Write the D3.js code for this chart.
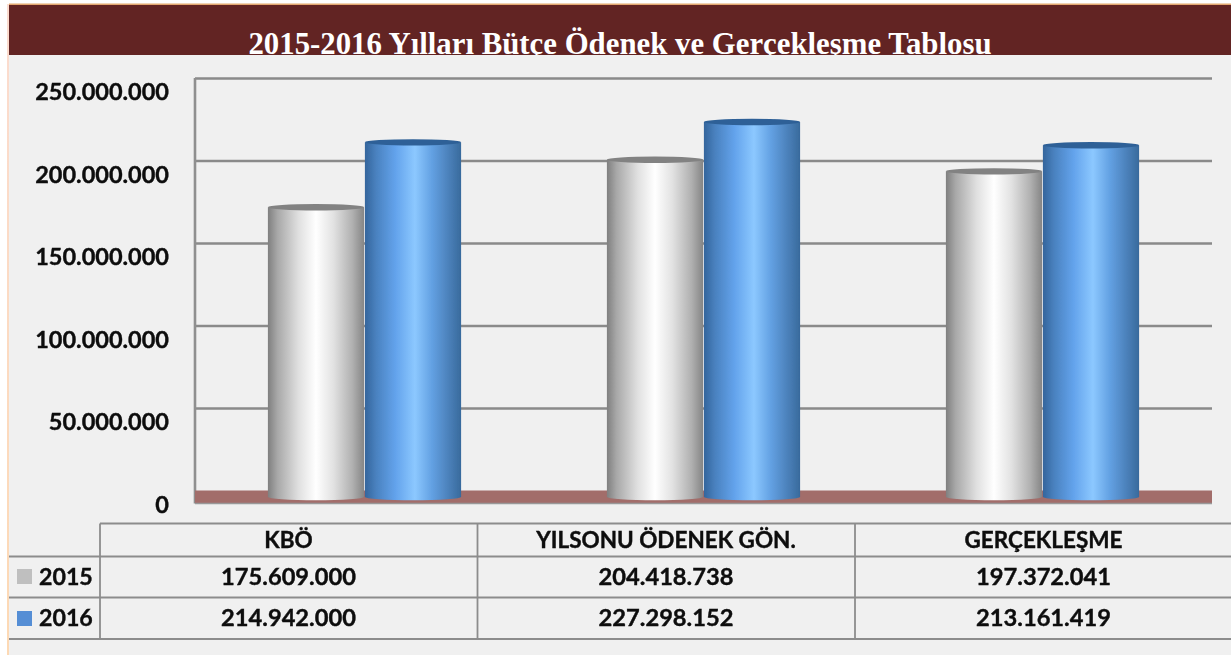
<!DOCTYPE html>
<html>
<head>
<meta charset="utf-8">
<title>Bütçe Ödenek ve Gerçekleşme</title>
<script src="https://d3js.org/d3.v7.min.js"></script>
<style>
  html, body { margin: 0; padding: 0; background: #fff; overflow: hidden; }
  svg { display: block; }
  text { font-family: Lato, "Open Sans", sans-serif; font-weight: 700; fill: #0a0a0a; stroke: #0a0a0a; stroke-width: 0.35px; }
</style>
</head>
<body>
<script>
const titleText = "2015-2016 Yılları Bütçe Ödenek ve Gerçekleşme Tablosu";
const categories = ["KBÖ", "YILSONU ÖDENEK GÖN.", "GERÇEKLEŞME"];
const years = ["2015", "2016"];
const values2015 = [175609000, 204418738, 197372041];
const values2016 = [214942000, 227298152, 213161419];
const yTicks = [0, 50000000, 100000000, 150000000, 200000000, 250000000];

const width = 1231, height = 655;
const plot = {left: 195, right: 1212, top: 78, bottom: 490.5};
const depth = 6.5;   // bars stand a little in front of the back wall

const svg = d3.select("body").append("svg").attr("width", width).attr("height", height);
const defs = svg.append("defs");

const trLocale = d3.formatLocale({decimal: ",", thousands: ".", grouping: [3], currency: ["", ""]});
const fmt = trLocale.format(",d");

// gradients for the cylinders
function cylGradient(id, stops) {
  const g = defs.append("linearGradient").attr("id", id).attr("x1", 0).attr("x2", 1).attr("y1", 0).attr("y2", 0);
  stops.forEach(s => g.append("stop").attr("offset", s[0]).attr("stop-color", s[1]));
}
cylGradient("grey", [[0, "#7f7f7f"], [0.1, "#a8a8a8"], [0.32, "#e0e0e0"], [0.5, "#ffffff"], [0.68, "#e2e2e2"], [0.88, "#b0b0b0"], [1, "#858585"]]);
cylGradient("blue", [[0, "#34659c"], [0.12, "#4a82c0"], [0.32, "#63a3ec"], [0.52, "#8cc8ff"], [0.7, "#62a0e2"], [0.88, "#4a7fb8"], [1, "#386a9c"]]);
const edge = defs.append("linearGradient").attr("id", "edge").attr("x1", 0).attr("x2", 0).attr("y1", 0).attr("y2", 1);
edge.append("stop").attr("offset", 0).attr("stop-color", "#fbdcd0");
edge.append("stop").attr("offset", 1).attr("stop-color", "#fdd9b4");
defs.append("filter").attr("id", "soft").append("feGaussianBlur").attr("stdDeviation", 0.5);
defs.append("filter").attr("id", "softText").append("feGaussianBlur").attr("stdDeviation", 0.3);
defs.append("clipPath").attr("id", "bannerClip").append("rect")
  .attr("x", 9).attr("y", 5).attr("width", width - 9).attr("height", 50);

// page and banner
svg.append("rect").attr("x", 9).attr("y", 5).attr("width", width - 9).attr("height", height - 5).attr("fill", "#f0f0f0");
svg.append("rect").attr("x", 7).attr("y", 4).attr("width", 2).attr("height", height - 4).attr("fill", "url(#edge)");
svg.append("rect").attr("x", 9).attr("y", 3.5).attr("width", width - 9).attr("height", 1.5).attr("fill", "#e3a76f");
svg.append("rect").attr("x", 9).attr("y", 5).attr("width", width - 9).attr("height", 50).attr("fill", "#622423");
svg.append("g").attr("clip-path", "url(#bannerClip)").append("text")
  .attr("x", 620).attr("y", 53.5).attr("text-anchor", "middle")
  .style("font-family", "'Liberation Serif', serif").style("font-size", "30.8px").style("fill", "#fff").style("stroke", "none")
  .text(titleText);

// scales
const maxY = d3.max(yTicks);
const yWall = d3.scaleLinear().domain([0, maxY]).range([plot.bottom, plot.top]);
const yBar = d3.scaleLinear().domain([0, maxY]).range([plot.bottom + depth, plot.top + depth]);
const x0 = d3.scaleBand().domain(categories).range([plot.left, plot.right]);
const x1 = d3.scaleBand().domain(years).range([x0.bandwidth() / 2 - 97, x0.bandwidth() / 2 + 97]);

// grid, wall edge, floor
const grid = svg.append("g").attr("filter", "url(#soft)");
grid.append("g").attr("transform", "translate(" + plot.right + ",0)")
  .call(d3.axisLeft(yWall).tickValues(yTicks.slice(1)).tickSize(plot.right - plot.left).tickFormat(""))
  .call(g => g.select(".domain").remove())
  .selectAll("line").attr("stroke", "#8a8a8a").attr("stroke-width", 2.6);
grid.append("line").attr("x1", plot.left).attr("x2", plot.left).attr("y1", plot.top).attr("y2", plot.bottom + 13)
  .attr("stroke", "#8f8f8f").attr("stroke-width", 2.6);
grid.append("rect").attr("x", plot.left).attr("y", plot.bottom).attr("width", plot.right - plot.left).attr("height", 13)
  .attr("fill", "#a26d6b");
grid.append("line").attr("x1", plot.left).attr("x2", plot.right).attr("y1", plot.bottom + 13).attr("y2", plot.bottom + 13)
  .attr("stroke", "#999").attr("stroke-width", 1.5);

// y labels
svg.append("g").attr("transform", "translate(169,14)").attr("filter", "url(#softText)")
  .call(d3.axisLeft(yWall).tickValues(yTicks).tickSize(0).tickPadding(0).tickFormat(fmt))
  .call(g => g.select(".domain").remove())
  .selectAll("text").style("font-size", "23.5px").style("font-family", "Lato").attr("fill", null);

// cylinders
const ry = 3.2;
const series = [
  {year: years[0], values: values2015, fill: "url(#grey)", lid: "#828282"},
  {year: years[1], values: values2016, fill: "url(#blue)", lid: "#2f6197"}
];
series.forEach(s => {
  const g = svg.append("g").attr("filter", "url(#soft)");
  categories.forEach((c, i) => {
    const left = x0(c) + x1(s.year) + 0.4;
    const w = x1.bandwidth() - 0.8;
    const rx = w / 2;
    const top = yBar(s.values[i]), base = yBar(0);
    g.append("path")
      .attr("d", "M" + left + "," + top + "V" + base + "A" + rx + "," + ry + " 0 0 0 " + (left + w) + "," + base + "V" + top + "Z")
      .attr("fill", s.fill);
    g.append("ellipse").attr("cx", left + rx).attr("cy", top).attr("rx", rx).attr("ry", ry).attr("fill", s.lid);
  });
});

// data table
const tableTop = 523.5, rowLines = [556.5, 597.5, 639];
const colLines = [100, 477.5, 855];
const colMid = [288.5, 666, 1043.5];
const table = svg.append("g").attr("stroke", "#8c8c8c").attr("stroke-width", 1.8);
table.append("line").attr("x1", colLines[0]).attr("x2", width).attr("y1", tableTop).attr("y2", tableTop);
rowLines.forEach(y => table.append("line").attr("x1", 9).attr("x2", width).attr("y1", y).attr("y2", y));
colLines.forEach(x => table.append("line").attr("x1", x).attr("x2", x).attr("y1", tableTop).attr("y2", rowLines[2]));

const labels = svg.append("g").attr("text-anchor", "middle").attr("filter", "url(#softText)");
categories.forEach((c, i) => {
  labels.append("text").attr("x", colMid[i]).attr("y", 547.5).style("font-size", "22.5px").text(c);
  labels.append("text").attr("x", colMid[i]).attr("y", 585).style("font-size", "23.7px").text(fmt(values2015[i]));
  labels.append("text").attr("x", colMid[i]).attr("y", 626).style("font-size", "23.7px").text(fmt(values2016[i]));
});
series.forEach((s, i) => {
  const y = i === 0 ? 569 : 611;
  svg.append("rect").attr("x", 17).attr("y", y).attr("width", 15).attr("height", 15)
    .attr("fill", i === 0 ? "#bfbfbf" : "#558ed5");
  svg.append("text").attr("x", 39).attr("y", i === 0 ? 585 : 626).attr("filter", "url(#softText)").style("font-size", "23.2px").text(s.year);
});
</script>
</body>
</html>
